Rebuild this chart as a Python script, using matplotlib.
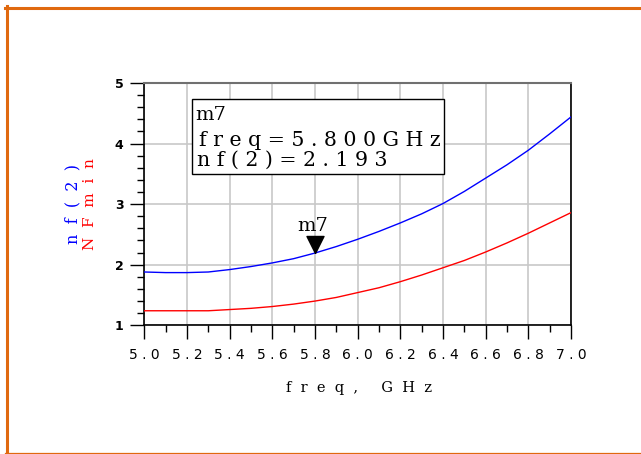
import matplotlib
matplotlib.use('Agg')
import matplotlib.pyplot as plt
from matplotlib.lines import Line2D
from matplotlib.patches import Rectangle
from matplotlib.ticker import MultipleLocator

# frequency sweep, GHz
freq = [5.0, 5.1, 5.2, 5.3, 5.4, 5.5, 5.6, 5.7, 5.8, 5.9, 6.0,
        6.1, 6.2, 6.3, 6.4, 6.5, 6.6, 6.7, 6.8, 6.9, 7.0]
# noise figure nf(2), dB
nf2 = [1.88, 1.87, 1.87, 1.88, 1.92, 1.97, 2.03, 2.10, 2.193, 2.30, 2.42,
       2.55, 2.69, 2.84, 3.01, 3.21, 3.43, 3.65, 3.89, 4.16, 4.44]
# minimum noise figure NFmin, dB
nfmin = [1.24, 1.24, 1.24, 1.24, 1.26, 1.28, 1.31, 1.35, 1.40, 1.46, 1.54,
         1.62, 1.72, 1.83, 1.95, 2.07, 2.21, 2.36, 2.52, 2.69, 2.86]

xtick_vals = [5.0, 5.2, 5.4, 5.6, 5.8, 6.0, 6.2, 6.4, 6.6, 6.8, 7.0]
xtick_labels = ['5 . 0', '5 . 2', '5 . 4', '5 . 6', '5 . 8', '6 . 0',
                '6 . 2', '6 . 4', '6 . 6', '6 . 8', '7 . 0']
ytick_vals = [1, 2, 3, 4, 5]
ytick_labels = ['1', '2', '3', '4', '5']

# marker m7
marker_name = 'm7'
marker_freq = 5.8
marker_nf = 2.193

W, H = 641, 454
fig = plt.figure(figsize=(W / 100, H / 100), dpi=100)
ax = fig.add_axes([144.3 / W, 1 - 325.3 / H, (571 - 144.3) / W, (325.3 - 83) / H])

ax.plot(freq, nf2, color='#0000ff', lw=1.0, zorder=3)
ax.plot(freq, nfmin, color='#ff0000', lw=1.0, zorder=3)

ax.set_xlim(5.0, 7.0)
ax.set_ylim(1, 5)
ax.set_xticks(xtick_vals)
ax.set_xticklabels(xtick_labels, fontsize=10, family='DejaVu Sans')
ax.set_yticks(ytick_vals)
ax.set_yticklabels(ytick_labels, fontsize=9, family='DejaVu Sans', fontweight='bold')
ax.xaxis.set_minor_locator(MultipleLocator(0.1))
ax.yaxis.set_minor_locator(MultipleLocator(0.2))
ax.tick_params(axis='both', which='major', direction='out', length=10, width=1.0, color='black')
ax.tick_params(axis='x', which='major', pad=6)
ax.tick_params(axis='y', which='major', pad=5)
ax.tick_params(axis='both', which='minor', direction='out', length=5, width=1.0, color='black')
ax.grid(True, which='major', color='#c8c8c8', lw=1.2)
ax.set_axisbelow(True)

for side in ['left', 'bottom', 'right']:
    ax.spines[side].set_color('black')
    ax.spines[side].set_linewidth(1.2)
ax.spines['top'].set_color('#707070')
ax.spines['top'].set_linewidth(1.5)

# marker triangle with tip on the trace
ax.plot([marker_freq], [marker_nf], linestyle='none', color='black',
        marker=[(0, 0), (-0.5, 1), (0.5, 1), (0, 0)], markersize=24.5, zorder=4)
ax.annotate(marker_name, (marker_freq, marker_nf), xytext=(-1.5, 13),
            textcoords='offset points', ha='center', va='bottom',
            fontsize=14, family='DejaVu Serif')

# marker readout box
ax.add_patch(Rectangle((0.112, 0.624), 0.59, 0.31, transform=ax.transAxes,
                       facecolor='white', edgecolor='black', lw=1.0, zorder=5))
ax.text(0.119, 1 - (115 - 83) / 242.3, marker_name, transform=ax.transAxes,
        va='center', ha='left', fontsize=14, family='DejaVu Serif', zorder=6)
ax.text(0.128, 1 - (140 - 83) / 242.3, 'f r e q = 5 . 8 0 0 G H z', transform=ax.transAxes,
        va='center', ha='left', fontsize=14.8, family='DejaVu Serif', zorder=6)
ax.text(0.123, 1 - (160 - 83) / 242.3, 'n f ( 2 ) = 2 . 1 9 3', transform=ax.transAxes,
        va='center', ha='left', fontsize=14.8, family='DejaVu Serif', zorder=6)

# axis labels
fig.text(359 / W, 1 - 388 / H, 'f  r  e  q  ,     G  H  z', ha='center', va='center',
         fontsize=10.5, family='DejaVu Serif')
fig.text(72.5 / W, 1 - 204 / H, 'n  f  (  2  )', ha='center', va='center', rotation=90,
         fontsize=11.5, family='DejaVu Serif', color='#0000ff')
fig.text(90 / W, 1 - 204 / H, 'N  F  m  i  n', ha='center', va='center', rotation=90,
         fontsize=11, family='DejaVu Serif', color='#ff0000')

# orange frame
orange = '#e0690f'
fig.add_artist(Line2D([6.5 / W, 6.5 / W], [1 - 6 / H, 1 - 453 / H], transform=fig.transFigure,
                      color=orange, lw=2.2))
fig.add_artist(Line2D([5 / W, 1.0], [1 - 7.5 / H, 1 - 7.5 / H], transform=fig.transFigure,
                      color=orange, lw=2.2))
fig.add_artist(Line2D([5 / W, 1.0], [1 - 452.5 / H, 1 - 452.5 / H], transform=fig.transFigure,
                      color=orange, lw=0.9))

fig.savefig('out.png', dpi=100)
